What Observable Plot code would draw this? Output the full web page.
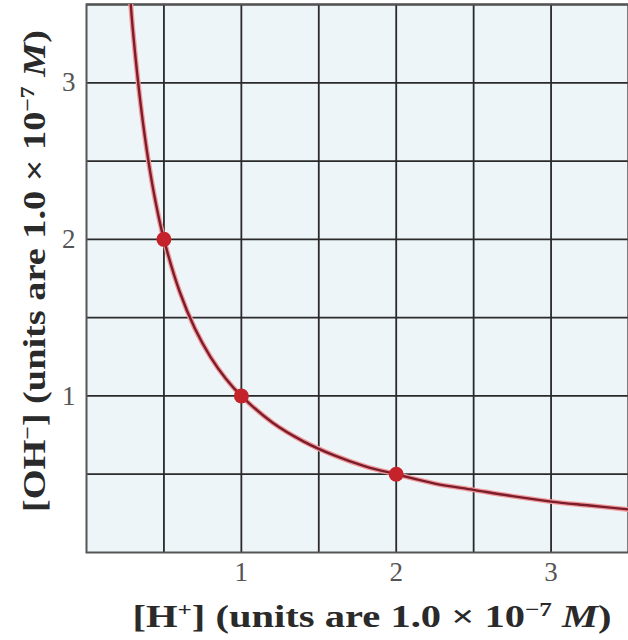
<!DOCTYPE html>
<html>
<head>
<meta charset="utf-8">
<script src="https://cdn.jsdelivr.net/npm/d3@7"></script>
<script src="https://cdn.jsdelivr.net/npm/@observablehq/plot@0.6"></script>
<style>
  html, body { margin: 0; padding: 0; background: #fff; }
  #chart svg { display: block; }
</style>
</head>
<body>
<div id="chart"></div>
<script>
// Curve [OH-] vs [H+]
const hConc = [0.286, 0.3, 0.35, 0.4, 0.45, 0.5, 0.6, 0.7, 0.8, 0.9, 1.0, 1.2, 1.4, 1.6, 1.8, 2.0, 2.25, 2.5, 2.75, 3.0, 3.25, 3.5];
const ohConc = [3.5, 3.33, 2.86, 2.5, 2.22, 2.0, 1.67, 1.43, 1.25, 1.11, 1.0, 0.83, 0.71, 0.62, 0.55, 0.5, 0.44, 0.4, 0.36, 0.325, 0.3, 0.275];
// Highlighted points
const markH = [0.5, 1, 2];
const markOH = [2, 1, 0.5];
// Ticks and grid
const tickLabels = [1, 2, 3];
const gridValues = [0.5, 1, 1.5, 2, 2.5, 3, 3.5];

const curve = hConc.map((h, i) => ({h, oh: ohConc[i]}));
const points = markH.map((h, i) => ({h, oh: markOH[i]}));

const chart = Plot.plot({
  width: 628,
  height: 640,
  marginTop: 4,
  marginLeft: 86,
  marginRight: 0,
  marginBottom: 88,
  style: {fontFamily: "'Liberation Serif', 'DejaVu Serif', serif", fontSize: "27px", background: "#fff"},
  x: {domain: [0, 3.5], label: null},
  y: {domain: [0, 3.5], label: null},
  marks: [
    Plot.frame({fill: "#eef5f8", stroke: null}),
    Plot.gridX(gridValues, {stroke: "#2a2a2a", strokeOpacity: 1, strokeWidth: 1.8}),
    Plot.gridY(gridValues, {stroke: "#2a2a2a", strokeOpacity: 1, strokeWidth: 1.8}),
    Plot.frame({stroke: "#555", strokeWidth: 2}),
    Plot.line(curve, {x: "h", y: "oh", curve: "catmull-rom", stroke: "#f19a9a", strokeWidth: 5, clip: true}),
    Plot.line(curve, {x: "h", y: "oh", curve: "catmull-rom", stroke: "#7a1c2c", strokeWidth: 2.4, clip: true}),
    Plot.dot(points, {x: "h", y: "oh", r: 7.5, fill: "#c4232b", stroke: null}),
    Plot.axisX(tickLabels, {tickSize: 0, tickPadding: 9, fill: "#555", fontSize: 27, tickFormat: "d"}),
    Plot.axisY(tickLabels, {tickSize: 0, tickPadding: 11, fill: "#555", fontSize: 27, tickFormat: "d"})
  ]
});

document.getElementById("chart").appendChild(chart);

const svg = d3.select(chart);

function addTitle(g, parts, len) {
  const t = g.append("text")
    .attr("text-anchor", "middle")
    .attr("font-family", "'Liberation Serif', 'DejaVu Serif', serif")
    .attr("font-weight", "bold")
    .attr("font-size", 32)
    .attr("fill", "#2a2a2a")
    .attr("textLength", len)
    .attr("lengthAdjust", "spacingAndGlyphs");
  parts.forEach(p => {
    const s = t.append("tspan").text(p.t);
    if (p.sup) s.attr("baseline-shift", "super").attr("font-size", "62%");
    if (p.it) s.attr("font-style", "italic");
  });
  return t;
}
const xTitle = svg.append("g").attr("transform", "translate(372,627)");
addTitle(xTitle, [
  {t: "[H"}, {t: "+", sup: true}, {t: "] (units are 1.0 \u00d7 10"}, {t: "\u22127", sup: true}, {t: " "}, {t: "M", it: true}, {t: ")"}
], 479);
const yTitle = svg.append("g").attr("transform", "translate(45,271) rotate(-90)");
addTitle(yTitle, [
  {t: "[OH"}, {t: "\u2212", sup: true}, {t: "] (units are 1.0 \u00d7 10"}, {t: "\u22127", sup: true}, {t: " "}, {t: "M", it: true}, {t: ")"}
], 482);
</script>
</body>
</html>
